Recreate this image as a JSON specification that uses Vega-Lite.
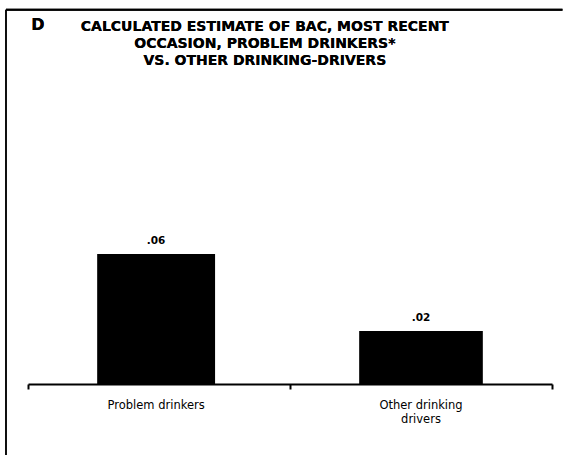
{
  "$schema": "https://vega.github.io/schema/vega-lite/v6.json",
  "width": 524,
  "height": 284,
  "autosize": {"type": "none"},
  "padding": {"left": 28, "top": 100, "right": 16, "bottom": 71},
  "background": "white",
  "view": {"stroke": null},
  "config": {"font": "Liberation Sans"},
  "data": {
    "values": [
      {"group": ["Problem drinkers"], "start": 1.32, "end": 3.57, "bac": 0.06, "label": ".06"},
      {"group": ["Other drinking", "drivers"], "start": 6.32, "end": 8.68, "bac": 0.0245, "label": ".02"}
    ]
  },
  "transform": [{"calculate": "(datum.start + datum.end) / 2", "as": "mid"}],
  "layer": [
    {
      "mark": {"type": "rect", "color": "black"},
      "encoding": {
        "x": {
          "field": "start", "type": "quantitative",
          "scale": {"domain": [0, 10], "nice": false, "zero": false},
          "axis": {"values": [0, 5, 10], "labels": false, "title": null, "grid": false,
                   "domainColor": "black", "domainWidth": 2, "tickColor": "black", "tickWidth": 2, "tickSize": 5}
        },
        "x2": {"field": "end"},
        "y": {
          "field": "bac", "type": "quantitative",
          "scale": {"domain": [0, 0.131], "nice": false},
          "axis": null
        },
        "y2": {"datum": 0}
      }
    },
    {
      "mark": {"type": "text", "baseline": "bottom", "dy": -8, "fontSize": 10.5, "fontWeight": "bold", "color": "black", "font": "DejaVu Sans"},
      "encoding": {
        "x": {"field": "mid", "type": "quantitative"},
        "text": {"field": "label"},
        "y": {"field": "bac", "type": "quantitative"}
      }
    },
    {
      "mark": {"type": "text", "baseline": "middle", "dy": 22, "fontSize": 11.5, "lineHeight": 14, "color": "black", "font": "DejaVu Sans"},
      "encoding": {
        "x": {"field": "mid", "type": "quantitative"},
        "y": {"datum": 0, "type": "quantitative"},
        "text": {"field": "group"}
      }
    },
    {
      "mark": {"type": "text", "text": "D", "fontSize": 16, "fontWeight": "bold", "color": "black", "baseline": "middle", "align": "center", "font": "DejaVu Sans"},
      "encoding": {
        "x": {"datum": 0.19, "type": "quantitative"},
        "y": {"datum": 0.1657, "type": "quantitative"}
      }
    },
    {
      "mark": {"type": "text", "text": ["CALCULATED ESTIMATE OF BAC, MOST RECENT", "OCCASION, PROBLEM DRINKERS*", "VS. OTHER DRINKING-DRIVERS"],
               "font": "DejaVu Sans", "fontSize": 14, "fontWeight": "bold", "lineHeight": 17, "color": "black", "baseline": "top", "align": "center"},
      "encoding": {
        "x": {"datum": 4.52, "type": "quantitative"},
        "y": {"datum": 0.168, "type": "quantitative"}
      }
    },
    {
      "mark": {"type": "rule", "color": "black", "strokeWidth": 2},
      "encoding": {
        "x": {"datum": -0.42, "type": "quantitative"},
        "x2": {"datum": 10.2},
        "y": {"datum": 0.1726, "type": "quantitative"}
      }
    },
    {
      "mark": {"type": "rule", "color": "black", "strokeWidth": 1.5},
      "encoding": {
        "x": {"datum": -0.42, "type": "quantitative"},
        "y": {"datum": 0.1726, "type": "quantitative"},
        "y2": {"datum": -0.034}
      }
    }
  ]
}
